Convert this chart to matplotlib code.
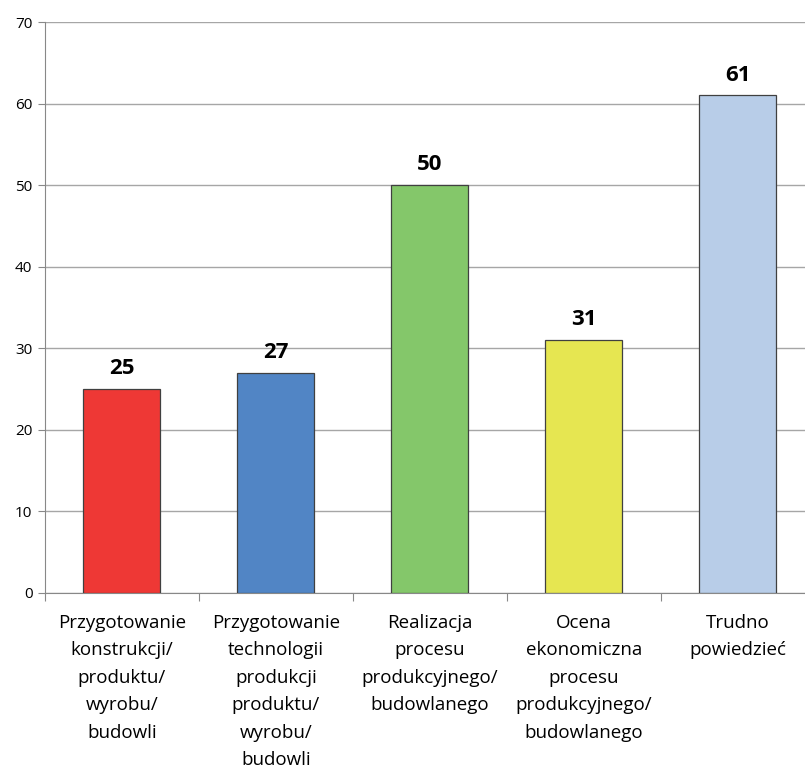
import matplotlib
matplotlib.use('Agg')
import matplotlib.pyplot as plt
import numpy as np

plt.rcParams['font.family'] = ['Open Sans', 'DejaVu Sans']

categories = ['Przygotowanie\nkonstrukcji/\nproduktu/\nwyrobu/\nbudowli',
	'Przygotowanie\ntechnologii\nprodukcji\nproduktu/\nwyrobu/\nbudowli',
	'Realizacja\nprocesu\nprodukcyjnego/\nbudowlanego',
	'Ocena\nekonomiczna\nprocesu\nprodukcyjnego/\nbudowlanego',
	'Trudno\npowiedzieć']
values = [25, 27, 50, 31, 61]
colors = ['#EE3835', '#5185C5', '#84C76A', '#E6E651', '#B8CDE8']

fig = plt.figure(figsize=(8.05, 7.72), dpi=100)
ax = fig.add_axes([0.0559, 0.2319, 0.9565, 0.7396])

x = np.arange(len(values))
ax.bar(x, values, width=0.5, color=colors, edgecolor='#404040', linewidth=0.9, zorder=3)
for xi, v in zip(x, values):
	ax.text(xi, v + 1.2, str(v), ha='center', va='bottom', fontsize=16, fontweight='bold', zorder=4)

ax.set_xlim(-0.5, len(values) - 0.5)
ax.set_ylim(0, 70)
ax.set_yticks(range(0, 71, 10))
ax.yaxis.grid(True, color='#A6A6A6', linewidth=1, zorder=0)
ax.tick_params(axis='y', labelsize=11, length=5, color='#888888', pad=4)

ax.set_xticks(np.arange(-0.5, len(values), 1))
ax.set_xticklabels([])
ax.set_xticks(x, minor=True)
ax.set_xticklabels(categories, minor=True, fontsize=13.5, linespacing=1.68)
ax.tick_params(axis='x', which='major', length=6, color='#888888')
ax.tick_params(axis='x', which='minor', length=0, pad=15)

for s in ['top', 'right']:
	ax.spines[s].set_visible(False)
ax.spines['left'].set_color('#888888')
ax.spines['bottom'].set_color('#888888')

fig.savefig('out.png', dpi=100)
